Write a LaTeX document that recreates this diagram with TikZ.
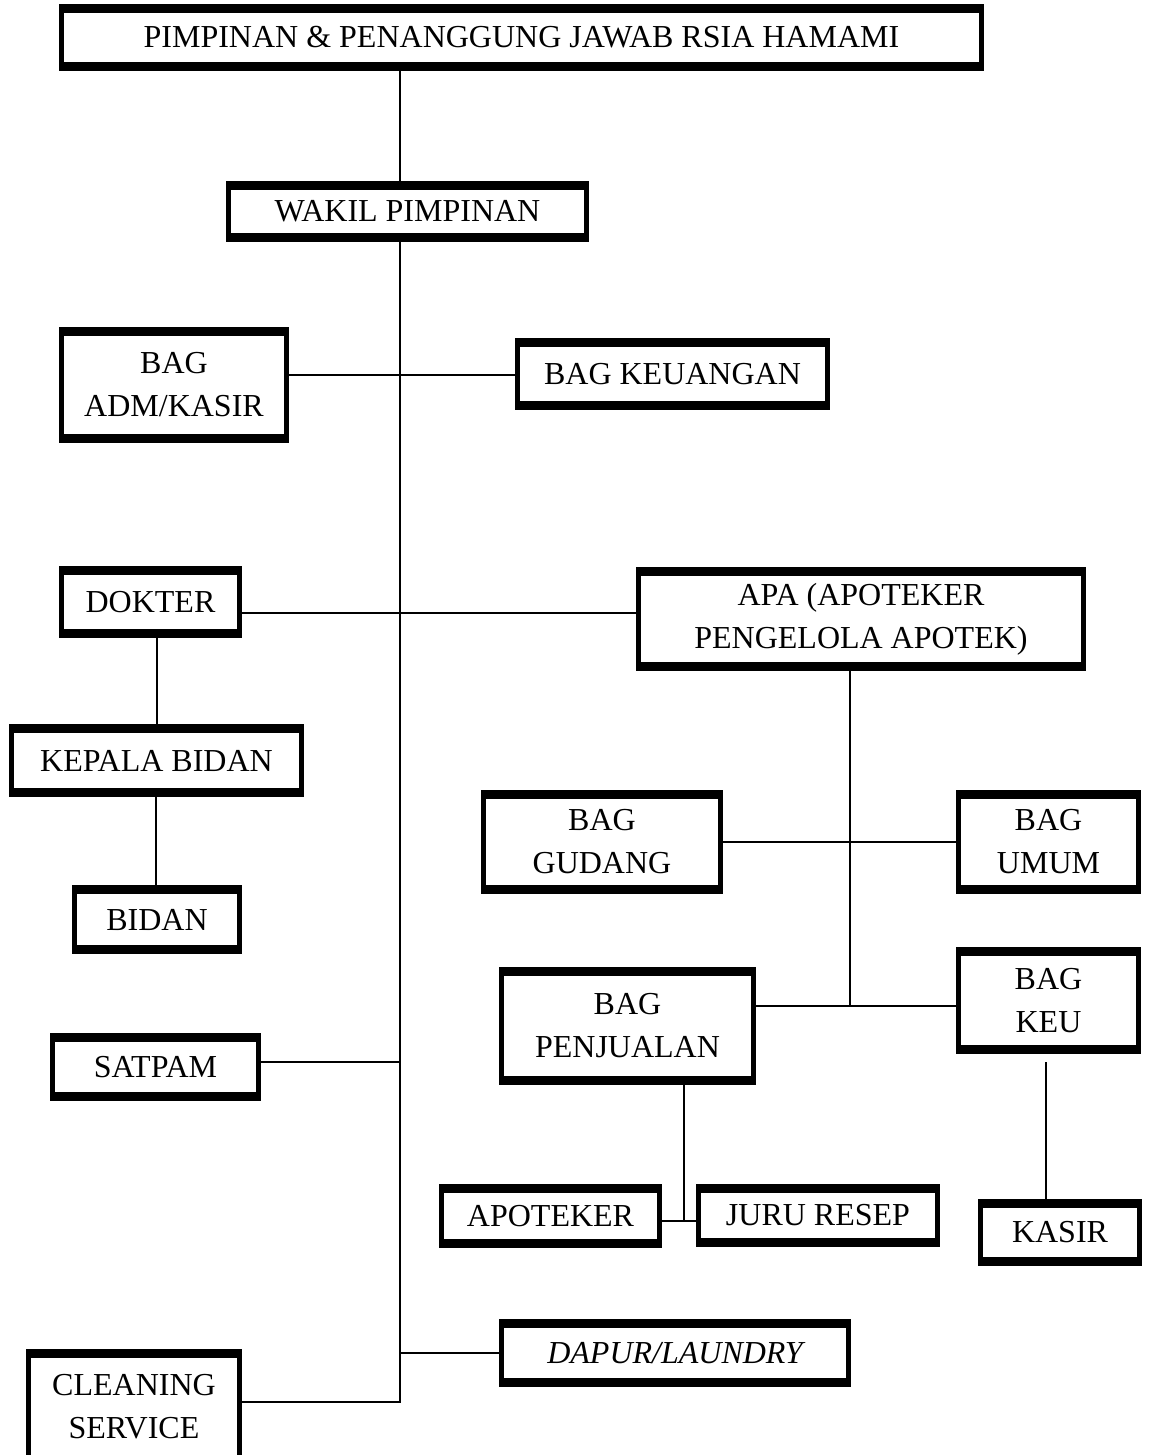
\documentclass[tikz,border=0pt]{standalone}
\usepackage{fontspec}
\setmainfont{Liberation Serif}
\begin{document}
\begin{tikzpicture}[x=1pt,y=-1pt,
  box/.style={draw=black, line width=2pt, inner sep=0pt, outer sep=0pt, align=center,
    font=\fontsize{32}{43}\selectfont,
    path picture={
      \draw[line width=16pt] (path picture bounding box.north west) -- (path picture bounding box.north east);
      \draw[line width=16pt] (path picture bounding box.south west) -- (path picture bounding box.south east);
      \draw[line width=8pt] (path picture bounding box.north west) -- (path picture bounding box.south west);
      \draw[line width=8pt] (path picture bounding box.north east) -- (path picture bounding box.south east);
    }},
  conn/.style={draw=black, line width=1.8pt}]
\useasboundingbox (0,0) rectangle (1149,1455);
\clip (0,0) rectangle (1149,1455);

\node[box, minimum width=923, minimum height=65] (top) at (521.5,37.5) {PIMPINAN \& PENANGGUNG JAWAB RSIA HAMAMI};
\node[box, minimum width=361, minimum height=59] (wakil) at (407.5,211.5) {WAKIL PIMPINAN};
\node[box, minimum width=228, minimum height=114] (adm) at (174,385) {BAG\\ADM/KASIR};
\node[box, minimum width=313, minimum height=70] (keuangan) at (672.5,374) {BAG KEUANGAN};
\node[box, minimum width=181, minimum height=70] (dokter) at (150.5,602) {DOKTER};
\node[box, minimum width=448, minimum height=102] (apa) at (861,619) {APA (APOTEKER\\PENGELOLA APOTEK)};
\node[box, minimum width=293, minimum height=71] (kabid) at (156.5,760.5) {KEPALA BIDAN};
\node[box, minimum width=240, minimum height=102] (gudang) at (602,842) {BAG\\GUDANG};
\node[box, minimum width=183, minimum height=102] (umum) at (1048.5,842) {BAG\\UMUM};
\node[box, minimum width=168, minimum height=67] (bidan) at (157,919.5) {BIDAN};
\node[box, minimum width=255, minimum height=116] (penj) at (627.5,1026) {BAG\\PENJUALAN};
\node[box, minimum width=183, minimum height=105] (keu) at (1048.5,1000.5) {BAG\\KEU};
\node[box, minimum width=209, minimum height=66] (satpam) at (155.5,1067) {SATPAM};
\node[box, minimum width=221, minimum height=62] (apoteker) at (550.5,1216) {APOTEKER};
\node[box, minimum width=242, minimum height=61] (juru) at (818,1215.5) {JURU RESEP};
\node[box, minimum width=162, minimum height=65] (kasir) at (1060,1232.5) {KASIR};
\node[box, minimum width=350, minimum height=66, font=\fontsize{32}{43}\selectfont\itshape] (dapur) at (675,1353) {DAPUR/LAUNDRY};
\node[box, minimum width=214, minimum height=114] (cleaning) at (134,1407) {CLEANING\\SERVICE};

% trunk
\coordinate (trunk) at (400,0);
\coordinate (trunkend) at (400,1402);
\draw[conn] (trunk |- top.south) -- (trunk |- wakil.north);
\draw[conn] (trunk |- wakil.south) -- (trunkend) -- (cleaning.east |- trunkend);

% side branches
\draw[conn] (adm.east |- 0,375) -- (keuangan.west |- 0,375);
\draw[conn] (dokter.east |- 0,613) -- (apa.west |- 0,613);
\draw[conn] (satpam.east |- 0,1062) -- (trunk |- 0,1062);
\draw[conn] (trunk |- dapur.west) -- (dapur.west);

% medical chain
\draw[conn] (157,0 |- dokter.south) -- (157,0 |- kabid.north);
\draw[conn] (156,0 |- kabid.south) -- (156,0 |- bidan.north);

% pharmacy
\coordinate (apax) at (850,0);
\draw[conn] (apax |- apa.south) -- (apax |- 0,1006);
\draw[conn] (gudang.east |- 0,842) -- (umum.west |- 0,842);
\draw[conn] (penj.east |- 0,1006) -- (keu.west |- 0,1006);
\coordinate (penjx) at (684,0);
\draw[conn] (penjx |- penj.south) -- (penjx |- 0,1221);
\draw[conn] (apoteker.east |- 0,1221) -- (juru.west |- 0,1221);
\coordinate (keux) at (1046,0);
\draw[conn] (keux |- 0,1062) -- (keux |- kasir.north);
\end{tikzpicture}
\end{document}
